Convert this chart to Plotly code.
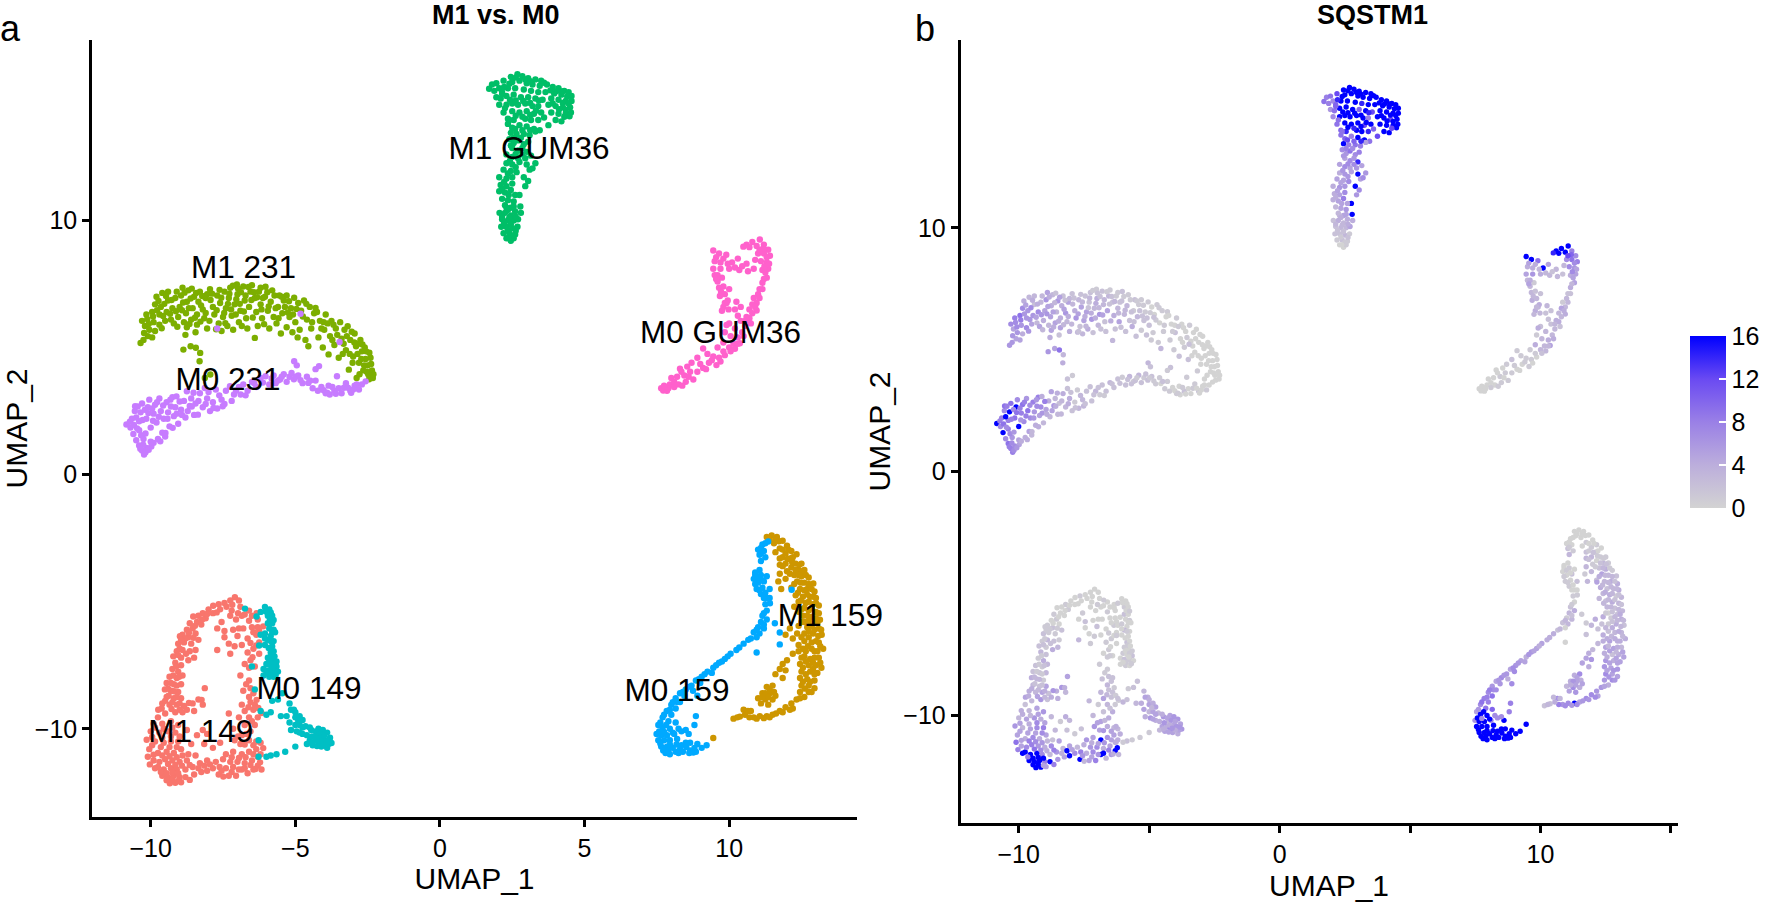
import plotly.graph_objects as go

# rows are (UMAP_1, UMAP_2, SQSTM1 expression)
M1_149 = [(-7.09,-4.82,0),(-7.25,-4.95,0),(-6.95,-4.95,0),(-7.45,-5.05,0),(-7.65,-5.1,1),(-7.84,-5.16,0),(-7.6,-5.3,0),(-8.0,-5.3,0),(-7.85,-5.45,0),(-8.2,-5.45,1),(-8.35,-5.55,0),(-8.1,-5.65,1),(-8.53,-5.58,0),(-8.4,-5.8,0),(-8.65,-5.85,1),(-8.25,-5.9,0),(-8.55,-6.05,1),(-8.75,-6.1,0),(-8.9,-6.3,1),(-8.99,-6.36,1),(-8.7,-6.4,2),(-8.45,-6.25,0),(-8.85,-6.6,1),(-9.05,-6.65,2),(-8.6,-6.65,1),(-8.35,-6.5,2),(-8.9,-6.9,3),(-9.1,-6.95,1),(-8.65,-6.95,2),(-8.45,-6.9,1),(-9.22,-7.15,2),(-8.95,-7.2,1),(-8.7,-7.3,4),(-8.5,-7.2,3),(-9.15,-7.4,3),(-8.95,-7.5,2),(-9.25,-7.65,1),(-9.05,-7.75,4),(-9.35,-7.95,2),(-9.1,-8.0,1),(-8.9,-7.9,3),(-9.45,-8.2,2),(-9.2,-8.25,2),(-8.95,-8.25,3),(-9.51,-8.45,4),(-9.3,-8.5,3),(-9.05,-8.55,1),(-9.45,-8.75,3),(-9.2,-8.8,2),(-8.95,-8.8,5),(-9.6,-9.0,4),(-9.35,-9.05,3),(-9.1,-9.05,5),(-8.85,-9.1,2),(-8.55,-9.0,4),(-8.35,-8.85,6),(-8.13,-8.4,5),(-8.24,-8.86,4),(-8.2,-9.05,3),(-8.5,-9.3,4),(-8.9,-9.35,2),(-9.15,-9.35,6),(-9.74,-9.25,5),(-9.5,-9.4,3),(-9.75,-9.55,2),
(-9.9,-9.8,4),(-9.6,-9.8,3),(-9.3,-9.7,5),(-9.05,-9.85,6),(-10.0,-10.1,3),(-9.7,-10.15,5),(-9.4,-10.1,6),(-9.15,-10.15,4),(-8.75,-10.05,3),(-8.4,-10.25,1),(-8.2,-10.05,4),(-8.05,-10.2,3),(-10.14,-10.43,6),(-9.85,-10.5,3),(-9.55,-10.55,5),(-9.3,-10.5,7),(-9.05,-10.5,8),(-8.6,-10.6,3),(-8.15,-10.6,2),(-7.85,-10.75,1),(-7.6,-10.55,2),(-10.05,-10.8,5),(-9.75,-10.95,4),(-9.45,-10.9,7),(-9.2,-10.95,4),(-8.95,-10.8,5),(-8.7,-11.0,2),(-8.45,-11.05,5),(-10.1,-11.1,9),(-9.9,-11.25,5),(-9.5,-11.2,8),(-9.25,-11.25,6),(-9.0,-11.3,4),(-8.75,-11.25,7),
(-10.03,-11.4,8),(-9.75,-11.5,16),(-9.55,-11.6,16),(-9.3,-11.55,16),(-9.1,-11.6,7),(-8.8,-11.6,3),(-8.55,-11.5,6),(-8.3,-11.35,3),(-8.05,-11.25,5),(-9.6,-11.85,16),(-9.4,-11.9,16),(-9.2,-11.85,16),(-9.0,-11.9,8),(-8.8,-11.9,16),(-8.65,-12.01,8),(-9.34,-12.14,16),(-9.15,-12.12,16),(-8.95,-12.1,5),(-8.5,-11.8,6),(-8.25,-11.7,5),(-8.05,-11.65,16),(-7.85,-11.55,7),(-7.65,-11.8,16),(-7.49,-11.88,3),(-7.4,-11.55,4),(-7.2,-11.7,5),(-7.05,-11.85,8),(-6.85,-11.6,16),(-6.65,-11.75,3),(-6.45,-11.6,6),(-6.3,-11.45,16),(-6.17,-11.6,3),(-7.25,-11.3,6),(-7.5,-11.2,4),(-7.75,-11.3,3),(-7.0,-11.3,7),(-6.75,-11.35,4),(-6.5,-11.25,5),(-6.3,-11.1,4),(-6.85,-11.0,16),(-6.6,-10.9,6),(-6.35,-10.8,5),(-7.15,-10.9,5),(-6.9,-10.6,5),(-7.1,-10.45,6),(-6.6,-10.45,4),(-6.35,-10.5,3),(-6.11,-10.76,4),(-6.85,-10.25,5),(-6.55,-10.1,4),
(-7.15,-10.0,3),(-6.75,-9.85,2),(-6.4,-9.85,4),(-6.95,-9.55,1),(-6.6,-9.55,3),(-6.3,-9.55,1),(-7.3,-9.4,3),(-6.75,-9.3,5),(-6.45,-9.25,2),(-6.17,-9.38,1),(-6.85,-9.05,3),(-6.55,-8.95,2),(-6.34,-8.86,1),(-6.8,-8.5,2),(-6.45,-8.6,2),(-6.6,-8.75,3),(-6.9,-7.9,1),(-6.6,-8.1,1),(-6.75,-7.45,0),(-6.55,-7.3,1),(-6.4,-7.55,0),(-6.65,-7.0,1),(-6.45,-6.85,1),(-6.25,-7.05,0),(-6.25,-6.6,0),(-6.85,-6.7,0),(-7.1,-6.75,1),(-7.3,-6.65,0),(-6.65,-6.45,0),(-6.35,-6.3,1),(-7.0,-6.35,2),(-7.15,-6.1,0),(-6.8,-6.05,0),(-6.5,-6.0,0),(-6.11,-5.97,0),(-6.3,-5.7,0),(-6.6,-5.75,1),(-6.85,-5.55,0),(-7.05,-5.7,0),(-6.34,-5.45,0),(-6.6,-5.35,0),(-7.2,-5.35,0),(-6.9,-5.2,0),(-7.55,-5.8,1),(-7.45,-6.15,2),(-7.45,-6.4,0),(-7.7,-6.05,0),(-7.7,-6.9,3),(-7.25,-7.05,1)]
M1_149_MORE = [(-7.18,-5.12,0),(-7.38,-5.2,0),(-7.72,-5.42,0),(-8.05,-5.48,0),(-8.22,-5.7,0),(-8.47,-5.95,0),(-8.68,-6.22,0),(-8.8,-6.45,1),(-8.95,-6.5,1),(-8.52,-6.42,1),(-9.0,-6.85,1),(-8.78,-7.05,2),(-9.05,-7.1,2),(-9.12,-7.55,1),(-9.22,-7.9,1),(-9.02,-7.95,2),(-9.3,-8.2,1),(-9.1,-8.3,1),(-9.4,-8.42,3),(-9.2,-8.52,3),(-9.38,-8.7,2),(-9.1,-8.75,2),(-9.5,-8.9,4),(-9.25,-8.95,3),(-9.0,-9.0,4),(-9.62,-9.2,4),(-9.28,-9.22,5),(-9.0,-9.25,3),(-8.75,-9.25,4),(-8.68,-8.98,6),(-9.85,-9.95,4),(-9.55,-10.0,3),(-9.25,-9.95,5),(-9.95,-10.32,5),(-9.6,-10.35,4),(-9.3,-10.3,7),(-9.0,-10.3,5),(-9.95,-10.65,5),(-9.65,-10.72,5),(-9.35,-10.72,5),(-9.1,-10.72,7),(-9.9,-11.02,5),(-9.6,-11.05,8),(-9.35,-11.08,7),(-9.1,-11.12,6),(-8.9,-11.05,3),(-9.7,-11.3,7),(-9.4,-11.38,9),(-9.15,-11.42,7),(-8.92,-11.45,4),(-8.65,-11.42,8),(-9.85,-11.55,16),(-9.65,-11.7,8),(-9.45,-11.75,16),(-9.25,-11.72,16),(-9.05,-11.75,16),(-9.45,-12.02,16),(-9.25,-12.0,16),(-9.05,-12.05,5),(-8.35,-11.55,4),(-8.15,-11.45,16),(-7.95,-11.4,5),(-7.62,-11.5,8),(-7.55,-11.65,6),(-7.3,-11.85,5),(-7.15,-11.5,7),(-6.95,-11.6,6),(-6.75,-11.55,16),(-6.55,-11.42,8),(-6.38,-11.58,4),(-6.22,-11.32,16),(-6.45,-11.0,5),(-6.2,-11.0,4),(-6.72,-11.12,6),(-6.95,-11.15,5),(-7.2,-11.12,4),(-7.4,-11.0,6),(-6.75,-10.62,6),(-6.45,-10.65,5),(-6.2,-10.55,3),(-6.98,-10.3,5),(-6.7,-10.2,3),(-6.5,-9.7,2),(-6.62,-9.15,3),(-6.4,-9.05,2),(-6.28,-9.18,1),(-6.55,-8.4,2),(-6.7,-8.25,1),(-6.6,-7.6,1),(-6.48,-7.18,0),(-6.35,-6.72,0),(-6.55,-6.62,1),(-6.45,-6.2,0),(-6.25,-6.15,0),(-6.95,-6.05,0),(-6.75,-5.5,0),(-6.98,-5.45,1),(-6.5,-5.55,0),(-6.3,-6.0,0),(-7.25,-5.55,0)]

M1_159 = [(11.47,-2.39,0),(11.3,-2.45,0),(11.65,-2.45,0),(11.85,-2.6,0),(11.55,-2.7,0),(12.0,-2.8,0),(11.75,-2.9,1),(12.15,-3.0,1),(11.95,-3.1,1),(12.33,-3.13,0),(11.6,-3.05,0),(12.1,-3.3,2),(11.75,-3.3,2),(11.95,-3.5,3),(12.3,-3.5,1),(12.5,-3.5,1),(11.75,-3.55,3),(12.15,-3.65,0),(12.4,-3.75,3),(12.6,-3.75,1),(12.0,-3.8,1),(11.75,-3.9,3),(12.25,-3.95,2),(12.5,-4.0,4),(12.75,-4.05,1),(11.95,-4.1,3),(12.35,-4.2,5),(12.6,-4.25,3),(12.91,-4.28,2),(11.7,-4.2,1),(11.8,-4.5,3),(12.15,-4.45,2),(12.45,-4.5,3),(12.7,-4.5,4),(12.95,-4.6,4),(12.3,-4.75,4),(12.55,-4.8,2),(12.8,-4.8,3),(13.0,-4.85,4),(12.4,-5.0,3),(12.65,-5.05,4),(12.9,-5.1,1),(13.1,-5.15,3),(12.25,-5.2,3),(12.5,-5.3,2),(12.75,-5.35,4),(13.0,-5.4,3),(12.55,-5.55,3),(12.85,-5.6,2),(13.14,-5.71,3),(12.6,-5.8,0),(12.95,-5.85,2),(12.4,-5.95,4),
(12.7,-6.0,1),(13.1,-6.05,4),(12.1,-6.05,4),(12.35,-6.25,2),(12.6,-6.25,1),(12.9,-6.25,4),(13.2,-6.3,2),(11.95,-6.3,3),(12.2,-6.45,2),(12.6,-6.55,2),(12.85,-6.6,3),(13.1,-6.6,3),(12.4,-6.7,4),(13.25,-6.85,4),(12.4,-6.95,4),(12.65,-6.95,5),(12.95,-6.95,4),(12.2,-7.05,3),(12.5,-7.2,5),(12.8,-7.25,5),(13.1,-7.2,3),(12.0,-7.3,3),(11.85,-7.45,4),(12.45,-7.45,4),(12.75,-7.5,2),(13.0,-7.5,4),(13.19,-7.6,5),(11.75,-7.65,5),(11.95,-7.7,6),(12.5,-7.75,6),(12.8,-7.75,4),(13.05,-7.8,5),(12.45,-8.0,6),(12.7,-8.05,5),(12.95,-8.1,6),(11.85,-8.0,4),(11.6,-7.85,5),(12.5,-8.3,7),(12.75,-8.3,5),(12.95,-8.4,5),(11.5,-8.3,7),(11.3,-8.35,4),(11.55,-8.55,4),(11.15,-8.6,4),(11.4,-8.6,5),(11.25,-8.85,7),(11.5,-8.85,4),(11.0,-8.8,3),(11.1,-9.0,5),(11.35,-9.05,6),(12.75,-8.55,7),(12.45,-8.55,6),(12.6,-8.75,4),(12.33,-8.85,6),(12.15,-9.0,6),(11.95,-9.15,7),(12.2,-9.2,5),(11.75,-9.3,7),(11.5,-9.45,5),(11.3,-9.5,16),(11.06,-9.5,7),(10.85,-9.55,6),(10.65,-9.3,7),(10.5,-9.25,3),(10.7,-9.55,8),(10.37,-9.52,2),(10.15,-9.6,2),(9.45,-10.36,16)]
M1_159_MORE = [(11.4,-2.55,0),(11.72,-2.62,0),(11.6,-2.55,0),(12.05,-2.95,0),(11.85,-2.95,0),(12.2,-3.25,0),(11.85,-3.25,1),(12.02,-3.32,2),(12.18,-3.45,1),(12.42,-3.55,1),(11.85,-3.6,2),(12.3,-3.75,2),(12.52,-3.8,2),(12.65,-3.95,1),(12.4,-3.95,3),(12.1,-3.9,1),(12.75,-4.3,3),(12.48,-4.25,3),(12.25,-4.3,4),(12.85,-4.5,2),(12.6,-4.55,3),(12.38,-4.65,3),(12.7,-4.72,3),(12.92,-4.8,3),(12.48,-4.95,4),(12.75,-5.0,3),(13.0,-5.05,2),(12.85,-5.25,2),(12.6,-5.25,3),(12.42,-5.4,3),(13.1,-5.45,2),(12.7,-5.55,3),(13.0,-5.65,3),(12.75,-5.75,2),(12.5,-5.8,1),(12.85,-5.95,3),(13.05,-5.85,4),(13.18,-6.1,3),(12.95,-6.1,3),(12.75,-6.15,2),(13.08,-6.35,3),(12.75,-6.4,4),(12.5,-6.4,3),(13.0,-6.55,4),(12.72,-6.75,3),(13.15,-6.75,3),(12.55,-6.85,4),(12.85,-6.85,4),(13.05,-6.95,4),(12.6,-7.15,3),(12.95,-7.2,4),(12.65,-7.35,5),(12.9,-7.4,3),(13.15,-7.4,5),(12.55,-7.6,4),(12.9,-7.65,5),(12.65,-7.85,5),(12.95,-7.85,5),(12.55,-8.15,5),(12.8,-8.15,6),(12.62,-8.42,6),(12.85,-8.55,6),(11.4,-8.45,5),(11.25,-8.6,6),(11.35,-8.75,5),(11.6,-8.7,5),(11.15,-8.75,4),(12.45,-8.8,5),(12.1,-9.25,7),(11.85,-9.35,6),(11.62,-9.4,6),(11.2,-9.58,6),(10.95,-9.6,7),(10.75,-9.3,3),(10.55,-9.45,4),(10.28,-9.55,3),(11.4,-9.55,7)]

M1_231 = [(-10.35,5.18,6),(-10.25,5.3,6),(-10.1,5.45,5),(-10.2,5.85,5),(-10.3,6.05,7),(-10.05,5.7,6),(-10.15,6.3,8),(-9.95,5.4,5),(-9.85,5.65,4),(-9.9,6.0,6),(-9.95,6.4,9),(-9.85,6.7,7),(-9.8,7.0,4),(-9.7,5.9,7),(-9.7,6.3,6),(-9.65,6.6,6),(-9.6,7.15,3),(-9.5,6.05,5),(-9.45,6.4,6),(-9.4,6.85,2),(-9.4,7.2,3),(-9.3,6.1,3),(-9.25,6.55,7),(-9.2,5.95,5),(-9.15,6.95,3),(-9.05,6.2,4),(-9.0,6.6,5),(-8.95,7.05,6),(-8.9,7.35,5),(-8.85,6.0,3),(-8.8,5.5,4),(-8.78,6.35,5),(-8.75,6.8,4),(-8.7,7.25,3),(-8.75,5.8,5),(-8.6,6.1,5),(-8.55,6.55,3),(-8.5,7.0,6),(-8.45,5.6,2),(-8.4,5.9,5),(-8.4,6.3,4),(-8.35,6.8,4),(-8.3,7.2,2),(-8.2,6.5,6),(-8.15,6.15,3),(-8.1,6.95,5),(-8.05,7.1,3),(-8.05,5.75,4),
(-7.95,7.3,2),(-7.85,6.6,4),(-7.8,6.3,6),(-7.7,7.05,3),(-7.65,5.95,2),(-7.6,6.75,5),(-7.55,5.65,3),(-7.5,6.2,5),(-7.45,7.2,2),(-7.4,6.55,5),(-7.35,5.85,4),(-7.3,6.95,2),(-7.25,7.35,2),(-7.2,6.25,6),(-7.15,5.7,2),(-7.1,6.7,3),(-7.02,7.48,1),(-7.0,7.1,4),(-6.95,6.0,3),(-6.9,6.45,6),(-6.85,5.85,2),(-6.8,7.4,2),(-6.75,6.85,3),(-6.7,6.15,2),(-6.6,6.6,5),(-6.55,7.2,3),(-6.5,7.45,1),(-6.4,5.38,3),(-6.4,6.95,2),(-6.35,6.4,4),(-6.3,5.85,2),(-6.2,6.7,3),(-6.2,7.35,1),(-6.15,6.15,5),(-6.05,7.0,2),(-6.03,7.39,2),(-5.95,6.45,3),(-5.9,5.75,2),(-5.85,6.8,3),(-5.8,7.25,1),(-5.75,6.2,2),
(-5.65,5.95,4),(-5.6,6.6,1),(-5.55,7.05,2),(-5.5,5.55,2),(-5.45,6.35,3),(-5.4,6.85,1),(-5.3,5.8,1),(-5.3,7.05,1),(-5.2,6.2,2),(-5.15,6.55,1),(-5.1,5.6,2),(-5.04,6.96,1),(-5.0,6.0,2),(-4.9,6.75,0),(-4.85,5.7,1),(-4.8,6.45,0),(-4.7,6.85,1),(-4.65,5.3,1),(-4.6,6.1,0),(-4.55,5.05,3),(-4.5,6.6,1),(-4.45,5.75,1),(-4.35,6.35,0),(-4.3,6.56,1),(-4.2,5.4,1),(-4.15,6.05,0),(-4.05,5.0,1),(-4.0,5.7,2),(-3.95,6.3,1),(-3.85,4.73,2),(-3.8,5.45,0),(-3.75,6.05,0),(-3.65,5.1,1),(-3.6,5.75,0),(-3.5,4.6,2),(-3.45,6.0,1),(-3.4,5.35,0),(-3.3,5.7,0),(-3.25,4.9,0),(-3.19,5.84,0),(-3.15,4.13,1),(-3.1,5.3,0),(-3.0,4.65,0),(-2.95,5.55,0),(-2.9,5.05,0),(-2.88,3.8,0),(-2.8,4.4,0),(-2.75,5.3,0),(-2.7,4.85,0),(-2.65,4.1,0),(-2.6,5.0,0),(-2.57,4.55,0),(-2.5,4.3,0),(-2.45,3.75,0),(-2.4,4.6,0),(-2.35,4.1,0),(-2.32,3.8,0),(-2.3,3.95,0),
(-8.87,4.92,6),(-8.62,5.05,5),(-8.44,4.99,9),(-8.29,4.79,3),(-8.31,4.46,4),(-8.13,3.8,2),(-7.94,3.94,1)]
M1_231_MORE = [(-10.23,5.57,6),(-10.07,5.93,7),(-10.12,6.12,7),(-9.92,6.22,8),(-9.78,6.47,6),(-9.73,6.83,5),(-9.57,6.24,6),(-9.53,6.72,7),(-9.62,5.76,6),(-9.47,7.03,4),(-9.33,6.33,5),(-9.28,6.87,4),(-9.13,6.43,6),(-9.08,5.82,3),(-9.1,7.2,3),(-8.92,6.47,6),(-8.88,6.77,5),(-8.83,7.16,4),(-8.68,6.55,5),(-8.66,5.93,4),(-8.62,6.93,3),(-8.58,7.32,2),(-8.47,6.17,4),(-8.43,7.15,5),(-8.28,6.02,3),(-8.26,6.66,5),(-8.22,7.03,2),(-8.1,6.36,4),(-7.97,6.05,3),(-7.93,6.87,3),(-7.88,7.12,2),(-7.74,5.72,3),(-7.72,6.47,5),(-7.62,7.27,2),(-7.56,6.96,3),(-7.46,6.36,4),(-7.42,5.96,3),(-7.33,6.72,2),(-7.28,7.12,3),(-7.22,6.5,4),(-7.16,7.43,1),(-7.06,6.3,4),(-7.04,6.9,4),(-6.98,7.32,2),(-6.92,6.72,3),(-6.88,7.18,2),(-6.78,6.42,5),(-6.72,7.05,3),(-6.66,5.75,2),(-6.62,7.38,1),(-6.52,6.87,2),(-6.47,6.18,4),(-6.43,7.18,2),(-6.32,6.98,3),(-6.26,7.2,1),(-6.17,6.5,3),(-6.12,6.95,2),(-6.08,5.92,2),(-5.97,7.18,1),(-5.92,6.62,3),(-5.72,7.05,1),(-5.68,6.55,2),(-5.58,6.15,2),(-5.47,7.0,1),(-5.36,6.6,2),(-5.26,6.38,2),(-5.22,6.82,1),(-5.08,6.3,2),(-4.96,6.52,1),(-4.92,5.4,1),(-4.74,6.22,1),(-4.62,6.72,1),(-4.42,6.0,1),(-4.25,6.4,0),(-4.1,5.75,1),(-4.02,6.0,0),(-3.88,5.95,1),(-3.72,5.3,0),(-3.68,5.9,0),(-3.55,5.5,1),(-3.36,4.75,0),(-3.33,5.15,0),(-3.22,5.45,0),(-3.12,4.75,0),(-3.05,5.62,0),(-3.02,4.4,0),(-2.96,5.2,0),(-2.85,4.75,0),(-2.82,5.15,0),(-2.72,4.55,0),(-2.68,5.12,0),(-2.62,4.3,0),(-2.55,4.85,0),(-2.48,3.95,0),(-2.44,4.8,0),(-2.38,4.35,0),(-2.53,4.05,0),(-2.78,3.95,0)]

M1_GUM36 = [(2.45,15.65,16),(2.68,15.75,16),(2.85,15.68,16),(3.05,15.6,16),(3.3,15.55,16),(3.5,15.5,16),(2.2,15.5,12),(2.5,15.45,16),(2.75,15.5,16),(3.0,15.4,16),(3.2,15.35,16),(3.45,15.3,16),(3.7,15.35,16),(3.9,15.25,16),(4.1,15.2,16),(4.3,15.1,16),(1.8,15.35,8),(1.95,15.4,9),(2.05,15.2,7),(1.7,15.18,9),(1.88,15.1,8),(2.15,15.05,10),(2.35,15.2,16),(2.6,15.2,16),(2.9,15.15,16),(3.15,15.1,14),(3.4,15.05,16),(3.65,15.05,16),(3.95,15.0,16),(4.2,14.95,16),(4.45,15.05,16),(4.55,14.9,16),(1.95,14.85,6),(2.1,14.8,9),(2.3,14.9,16),(2.55,14.95,16),(2.8,14.85,16),(3.05,14.85,10),(3.3,14.8,16),(3.55,14.75,12),(3.85,14.8,16),(4.1,14.75,16),(4.35,14.7,16),(4.55,14.7,16),(2.05,14.55,7),(2.3,14.55,16),(2.5,14.6,16),(2.7,14.55,16),(2.95,14.6,16),(3.2,14.5,16),(3.4,14.5,8),(3.75,14.55,16),(4.0,14.5,16),(4.25,14.45,12),(4.5,14.45,16),(2.2,14.25,9),(2.5,14.3,16),(2.75,14.25,16),(3.0,14.3,16),(3.25,14.2,12),(3.5,14.25,16),(3.85,14.25,16),(4.1,14.2,16),(4.35,14.2,16),(4.53,14.25,16),(2.35,14.0,10),(2.55,13.95,14),(2.95,14.0,16),(3.15,13.95,16),(3.4,13.95,14),(3.6,14.05,10),(4.0,13.95,16),(4.2,13.9,16),(3.75,13.75,12),
(2.35,13.8,9),(2.5,13.65,10),(2.75,13.75,8),(3.0,13.7,16),(3.25,13.6,16),(3.45,13.55,9),(2.45,13.45,16),(2.65,13.4,8),(2.9,13.4,9),(3.1,13.35,8),(3.3,13.5,5),(2.4,13.2,7),(2.55,13.05,6),(2.7,13.15,9),(2.9,13.0,7),(3.05,13.1,8),(2.5,12.85,5),(2.7,12.75,7),(2.85,12.85,6),(3.0,12.7,14),(2.3,12.6,5),(2.5,12.5,7),(2.7,12.45,5),(2.95,12.45,6),(3.15,12.55,5),(2.3,12.25,4),(2.5,12.2,6),(2.75,12.3,5),(3.0,12.2,16),(3.3,12.25,6),(2.2,12.0,5),(2.45,11.95,5),(2.65,11.9,7),(3.1,12.0,5),(3.2,12.05,7),(2.05,11.7,4),(2.3,11.65,6),(2.5,11.7,6),(2.9,11.7,16),(3.05,11.55,7),(2.1,11.4,4),(2.3,11.35,5),(2.5,11.45,7),(2.95,11.35,6),(2.05,11.15,4),(2.25,11.1,5),(2.45,11.2,8),(2.75,11.0,16),(2.15,10.85,3),(2.35,10.8,5),(2.55,10.75,6),(2.25,10.6,3),(2.45,10.5,5),(2.78,10.55,16),(2.06,10.3,2),(2.25,10.3,4),(2.45,10.2,3),(2.6,10.35,4),(2.8,10.3,4),(2.15,10.05,2),(2.35,10.0,3),(2.55,10.0,3),(2.7,10.05,5),(2.12,9.75,2),(2.3,9.75,2),(2.5,9.7,3),(2.68,9.75,1),(2.2,9.5,1),(2.4,9.5,2),(2.6,9.45,1),(2.3,9.3,0),(2.45,9.2,0),(2.55,9.3,1)]
M1_GUM36_MORE = [(2.22,15.25,14),(2.4,15.38,16),(2.62,15.62,16),(2.95,15.55,16),(3.12,15.48,16),(3.6,15.42,16),(3.82,15.12,16),(4.02,15.08,16),(4.22,15.08,16),(4.4,14.88,16),(4.25,14.62,16),(4.45,14.6,16),(4.12,14.38,16),(4.35,14.36,16),(4.48,14.1,16),(4.3,14.08,12),(3.9,14.6,16),(2.15,14.98,10),(2.42,14.75,16),(2.62,14.72,16),(2.88,14.7,16),(3.12,14.62,16),(3.32,14.32,16),(3.42,14.72,14),(2.62,14.12,16),(2.85,14.08,14),(3.12,14.15,16),(2.25,14.42,9),(2.4,13.95,9),(2.6,13.6,12),(2.85,13.55,10),(3.12,13.55,14),(2.55,13.25,8),(2.8,13.25,7),(2.45,12.95,6),(2.62,12.62,7),(2.85,12.6,7),(2.42,12.35,6),(2.62,12.1,6),(2.35,11.85,5),(2.22,11.52,5),(2.15,11.25,4),(2.38,11.0,5),(2.6,11.0,5),(2.3,10.5,3),(2.55,10.55,5),(2.35,10.42,4),(2.15,10.15,3),(2.4,10.12,3),(2.62,10.15,4),(2.22,9.9,2),(2.45,9.85,2),(2.62,9.6,2),(2.35,9.62,1),(2.5,9.4,1),(2.38,9.3,0)]

M0_149 = [(-6.74,-5.27,1),(-6.34,-5.58,0),(-6.2,-5.4,1),(-6.05,-5.21,0),(-5.9,-5.3,0),(-5.95,-5.55,1),(-5.8,-5.55,0),(-5.95,-5.85,2),(-5.8,-5.85,0),(-5.9,-6.05,0),(-5.75,-6.1,1),(-6.2,-6.3,0),(-6.05,-6.25,1),(-5.85,-6.35,0),(-5.7,-6.2,0),(-5.95,-6.5,3),(-5.75,-6.55,0),(-6.25,-6.72,1),(-6.05,-6.7,0),(-5.8,-6.75,0),(-5.85,-7.0,2),(-5.75,-6.95,0),(-5.95,-7.2,1),(-5.8,-7.25,0),(-5.65,-7.35,1),(-6.0,-7.45,1),(-5.85,-7.5,0),(-5.65,-7.55,2),(-6.1,-7.65,0),(-5.95,-7.7,2),(-5.75,-7.7,1),(-5.6,-7.75,0),(-6.1,-7.9,0),(-5.9,-7.95,1),(-5.75,-7.95,0),(-6.5,-7.55,1),(-6.4,-8.45,2),(-5.8,-8.9,1),(-5.6,-8.85,2),(-5.2,-9.0,3),(-5.45,-8.6,2),(-6.2,-9.3,2),(-6.0,-9.45,3),(-5.85,-9.35,2),(-5.5,-9.5,3),(-5.3,-9.5,4),(-5.05,-9.25,4),(-5.0,-9.55,5),(-5.15,-9.25,5),(-4.85,-9.5,4),(-4.75,-9.65,5),(-5.2,-9.75,5),(-5.15,-10.05,4),(-5.0,-9.85,3),(-4.95,-10.1,6),(-4.85,-9.85,5),(-4.65,-9.9,3),(-4.6,-10.25,4),(-4.75,-10.2,4),(-4.45,-10.05,6),(-4.5,-10.45,5),(-4.6,-10.6,3),(-4.4,-10.65,5),(-4.2,-10.0,5),(-4.25,-10.25,3),(-4.05,-10.05,6),(-4.3,-10.45,4),(-4.05,-10.4,5),(-4.1,-10.7,5),(-3.9,-10.15,6),(-3.95,-10.45,6),(-3.8,-10.35,5),(-3.75,-10.56,6),(-3.9,-10.75,4),(-4.2,-10.55,7),(-3.85,-10.6,5),(-5.0,-10.7,1),(-5.35,-10.9,1),(-5.65,-11.0,1),(-5.85,-11.05,2),(-6.0,-11.1,1),(-6.27,-11.1,4),(-6.27,-10.45,4)]
M0_149_MORE = [(-6.02,-5.38,0),(-5.85,-5.42,0),(-5.88,-5.7,0),(-5.75,-5.72,1),(-5.8,-6.18,0),(-6.05,-6.45,0),(-5.85,-6.55,1),(-5.92,-6.82,0),(-5.82,-7.12,1),(-5.72,-7.15,0),(-5.9,-7.35,0),(-5.75,-7.45,1),(-5.78,-7.6,0),(-5.88,-7.82,1),(-6.0,-7.82,0),(-5.68,-7.88,1),(-5.0,-9.35,4),(-4.9,-9.68,3),(-4.75,-9.95,5),(-4.85,-10.15,5),(-4.5,-9.95,4),(-4.3,-10.1,5),(-4.42,-10.3,6),(-4.15,-10.2,6),(-4.2,-10.4,4),(-4.0,-10.25,5),(-4.0,-10.6,4),(-3.82,-10.48,6),(-4.45,-10.55,4),(-4.25,-10.68,5),(-4.12,-10.52,6)]

M0_159 = [(11.35,-2.63,0),(11.15,-2.75,0),(11.0,-2.95,0),(11.2,-3.0,0),(11.05,-3.15,2),(11.25,-3.25,1),(11.1,-3.4,3),(11.05,-3.75,0),(10.9,-3.95,0),(10.85,-4.1,0),(11.1,-3.95,1),(11.3,-4.0,0),(11.0,-4.25,0),(11.2,-4.2,2),(10.95,-4.5,1),(11.15,-4.45,0),(11.4,-4.5,2),(11.1,-4.7,1),(11.3,-4.85,0),(11.41,-5.06,1),(11.25,-5.1,1),(12.16,-4.53,5),(11.3,-5.35,0),(11.15,-5.55,2),(11.1,-5.8,3),(11.3,-5.7,4),(11.58,-5.85,1),(11.0,-6.0,1),(11.2,-6.05,3),(11.05,-6.25,3),(10.85,-6.2,2),(10.95,-6.4,0),(11.75,-6.21,1),(11.75,-6.68,2),(10.66,-6.5,2),(10.5,-6.65,4),(10.95,-7.0,0),(10.25,-6.9,4),(10.05,-7.05,5),(9.85,-7.25,5),(9.65,-7.4,6),(9.45,-7.6,4),(9.25,-7.75,5),(9.4,-7.8,5),(9.05,-7.95,6),(8.85,-8.1,5),(9.0,-8.2,7),(8.7,-8.3,6),(8.5,-8.45,7),(8.75,-8.5,4),(8.9,-8.7,7),(8.3,-8.6,5),(8.45,-8.7,6),(8.15,-8.8,6),(8.3,-8.95,7),(8.0,-9.05,7),(8.15,-9.2,9),(7.84,-9.3,8),(8.0,-9.45,8),(7.7,-9.55,7),(7.9,-9.7,9),(8.15,-9.75,10),(8.85,-9.5,8),(8.8,-9.85,8),(7.55,-9.85,5),(7.7,-9.95,16),(7.95,-10.0,16),(8.25,-10.0,7),(7.49,-10.2,6),(7.65,-10.25,16),(7.85,-10.25,16),(8.1,-10.2,8),(8.35,-10.1,7),(8.6,-10.2,16),(7.55,-10.45,16),(7.75,-10.45,16),(7.95,-10.45,16),(8.2,-10.4,16),(8.5,-10.55,16),(7.65,-10.7,16),(7.85,-10.7,16),(8.05,-10.75,16),(8.35,-10.65,16),(8.65,-10.55,16),(8.9,-10.6,16),(7.8,-10.95,16),(7.95,-11.0,16),(8.15,-10.9,16),(8.4,-10.9,16),(8.65,-10.85,16),(8.85,-10.9,16),(8.76,-10.93,16),(9.05,-10.75,16),(9.22,-10.65,16)]
M0_159_MORE = [(11.25,-2.7,0),(11.1,-2.88,0),(11.1,-3.1,1),(10.9,-3.85,0),(11.0,-4.05,1),(11.15,-4.15,0),(10.9,-4.3,1),(11.05,-4.55,1),(11.25,-4.65,0),(11.2,-4.85,0),(11.4,-4.85,0),(11.2,-5.45,1),(11.2,-5.9,2),(10.95,-6.1,3),(10.75,-6.45,3),(10.35,-6.8,4),(9.95,-7.15,4),(9.75,-7.35,5),(9.55,-7.5,6),(9.15,-7.85,6),(8.95,-8.05,7),(8.6,-8.35,6),(8.4,-8.55,6),(8.2,-8.95,7),(8.05,-8.95,8),(7.95,-9.25,8),(7.75,-9.45,9),(7.62,-9.75,6),(7.82,-9.85,16),(7.58,-10.1,16),(7.75,-10.12,7),(7.62,-10.58,16),(7.72,-10.85,16),(7.95,-10.62,16),(8.18,-10.62,16),(8.3,-10.8,16),(8.52,-10.72,16),(8.62,-10.95,16),(8.25,-10.95,16),(8.05,-10.15,16),(8.5,-10.05,7),(7.9,-10.85,16),(8.8,-10.75,16)]

M0_231 = [(-10.84,1.97,16),(-10.7,1.85,7),(-10.65,2.2,8),(-10.55,2.5,7),(-10.6,1.6,16),(-10.5,1.35,7),(-10.54,2.69,9),(-10.4,2.1,8),(-10.4,1.75,8),(-10.35,2.45,16),(-10.3,2.8,9),(-10.4,1.15,9),(-10.3,0.95,8),(-10.25,1.4,6),(-10.23,0.79,8),(-10.15,2.2,9),(-10.1,2.65,16),(-10.15,1.05,7),(-10.05,2.95,7),(-10.0,1.85,16),(-10.0,1.3,5),(-9.98,1.11,5),(-9.9,2.4,8),(-9.85,2.75,9),(-9.8,2.05,7),(-9.75,1.4,4),(-9.7,3.0,6),(-9.65,2.5,9),(-9.6,1.65,5),(-9.55,2.2,7),(-9.5,1.5,3),(-9.45,2.85,8),(-9.4,2.45,6),(-9.35,1.9,4),(-9.25,3.05,8),(-9.24,1.84,4),(-9.2,2.3,5),(-9.15,2.65,7),(-9.11,3.08,4),(-9.05,2.0,3),
(-8.95,2.55,5),(-8.85,2.9,4),(-8.8,2.25,3),(-8.75,3.28,5),(-8.65,2.7,6),(-8.6,3.0,3),(-8.5,2.35,3),(-8.45,2.8,2),(-8.37,2.36,3),(-8.3,3.2,4),(-8.2,2.65,3),(-8.13,3.41,2),(-8.05,3.0,4),(-7.95,2.5,2),(-7.85,2.85,1),(-7.75,3.35,1),(-7.7,2.6,3),(-7.55,2.95,3),(-7.51,2.69,3),(-7.4,3.3,2),(-7.26,3.48,2),(-7.2,2.9,2),(-7.05,3.3,3),(-6.89,3.15,1),(-6.8,3.55,2),(-6.65,3.3,2),(-6.5,3.65,3),(-6.35,3.45,2),(-6.2,3.8,2),(-6.03,3.87,1),(-5.9,3.55,2),(-5.75,3.9,3),(-5.6,3.7,1),(-5.53,3.74,2),(-5.4,3.95,3),(-5.3,3.65,2),(-5.2,3.85,1),(-5.04,4.46,3),(-4.95,4.3,2),(-5.05,3.75,2),(-4.9,3.9,2),(-4.75,3.6,1),(-4.6,3.85,1),(-4.55,3.61,0),(-4.4,3.4,1),(-4.3,3.7,1),(-4.18,4.27,2),(-4.3,4.15,1),(-4.1,3.45,0),(-3.95,3.2,1),(-3.85,3.5,0),(-3.81,3.15,0),(-3.65,3.3,2),(-3.56,3.87,1),(-3.5,3.4,0),(-3.4,3.2,0),(-3.25,3.6,1),(-3.1,3.3,2),(-3.07,3.22,0),(-2.95,3.5,0),(-2.8,3.35,1),(-2.57,3.67,0),(-2.7,3.55,0),(-4.82,6.33,2),(-3.47,5.22,2),(-7.7,5.75,2)]
M0_231_MORE = [(-10.72,2.08,8),(-10.58,1.95,9),(-10.5,2.25,16),(-10.47,1.82,7),(-10.45,2.68,8),(-10.33,1.55,7),(-10.36,1.02,8),(-10.28,2.15,8),(-10.2,2.55,7),(-10.26,1.18,7),(-10.18,1.62,6),(-10.18,0.88,7),(-10.08,2.42,9),(-10.07,0.98,6),(-9.95,2.6,8),(-9.92,2.12,6),(-9.9,1.25,4),(-9.78,2.85,8),(-9.72,2.28,8),(-9.67,1.31,4),(-9.57,2.72,7),(-9.49,1.64,3),(-9.42,2.2,6),(-9.3,2.68,7),(-9.32,2.95,6),(-9.1,2.4,6),(-9.0,2.88,8),(-8.92,2.35,4),(-8.72,2.5,5),(-8.58,2.68,4),(-8.52,3.22,4),(-8.35,2.9,3),(-8.1,2.78,4),(-8.0,3.25,2),(-7.83,2.62,2),(-7.63,3.12,3),(-7.45,2.78,2),(-7.12,3.15,2),(-6.95,3.45,2),(-6.72,3.12,1),(-6.42,3.6,2),(-6.12,3.62,2),(-5.82,3.78,2),(-5.68,3.6,2),(-5.47,3.85,1),(-5.13,4.0,2),(-4.98,3.85,1),(-4.82,3.72,1),(-4.48,3.7,2),(-4.22,3.3,1),(-4.02,3.32,0),(-3.9,3.22,1),(-3.72,3.45,1),(-3.6,3.18,0),(-3.32,3.42,1),(-3.18,3.42,0),(-3.0,3.35,0),(-2.88,3.55,0)]

M0_GUM36 = [(11.06,9.25,16),(10.8,9.15,16),(10.6,9.05,16),(10.49,8.97,14),(10.95,9.0,16),(11.2,9.05,8),(11.35,8.85,7),(11.41,8.61,8),(11.2,8.7,9),(11.0,8.7,7),(11.3,8.35,6),(11.1,8.4,7),(10.9,8.45,3),(10.6,8.3,3),(10.3,8.5,5),(10.1,8.35,16),(9.9,8.65,9),(9.65,8.7,16),(9.45,8.82,16),(9.7,8.35,4),(9.5,8.4,4),(9.45,8.1,5),(9.7,8.1,6),(10.0,8.1,4),(10.35,8.05,3),(10.65,8.0,3),(10.85,8.1,2),(11.35,8.1,5),(11.15,8.05,4),(11.3,7.75,5),(11.15,7.55,4),(9.5,7.85,3),(9.6,7.6,3),(9.75,7.75,1),(9.65,7.35,3),(9.8,7.4,2),(9.68,7.03,4),(9.85,7.1,3),(10.0,7.3,2),(11.15,7.3,2),(11.0,7.1,3),(10.85,6.95,1),(10.95,6.75,3),(10.8,6.7,5),(9.8,6.6,4),(9.91,6.75,3),(9.75,6.45,3),(9.98,6.5,3),(10.25,6.8,3),(10.4,6.6,2),(10.2,6.5,2),(10.95,6.46,4),(10.8,6.35,3),(10.6,6.2,4),(10.75,5.95,2),(10.55,5.85,3),(10.4,6.05,2),(10.0,5.95,2),(10.2,5.75,3),(10.45,5.6,3),(9.91,5.89,4),(9.85,5.6,1),(10.05,5.45,3),(10.3,5.4,4),(10.37,5.17,5),(10.15,5.15,3),(10.0,5.0,3),(9.8,5.2,4),(9.6,5.0,1),(9.1,4.96,1),(9.25,4.75,1),(9.45,4.65,1),(9.65,4.6,1),(9.85,4.7,0),(9.56,4.31,1),(9.3,4.4,0),(9.1,4.2,0),(8.9,4.6,2),(8.7,4.4,1),(8.9,4.05,1),(8.76,3.74,1),(8.55,4.25,0),(8.3,4.17,0),(8.45,3.9,1),(8.2,3.85,0),(8.0,3.8,0),(8.25,3.55,0),(8.5,3.65,1),(7.95,3.55,0),(7.8,3.45,0),(7.72,3.31,0),(7.85,3.3,0),(7.65,3.4,0),(8.1,3.45,1)]
M0_GUM36_MORE = [(11.18,8.9,10),(11.05,8.85,12),(10.7,8.95,16),(11.3,8.55,7),(11.38,8.3,5),(11.22,8.2,7),(11.25,7.95,5),(11.2,7.7,3),(9.55,8.55,5),(9.8,8.5,4),(9.95,8.3,3),(10.2,8.15,3),(10.45,8.2,2),(9.6,7.85,4),(9.55,7.7,5),(9.72,7.2,3),(9.95,6.85,4),(9.85,6.75,3),(11.05,7.3,2),(11.05,6.95,3),(10.9,6.6,4),(10.7,6.5,3),(10.7,6.15,4),(10.55,6.05,3),(10.3,6.25,2),(10.5,5.45,4),(10.3,5.15,3),(10.2,4.95,3),(10.05,4.85,2),(9.8,4.85,1),(9.7,4.45,0),(9.4,4.5,1),(9.2,4.15,0),(9.0,4.35,1),(8.65,4.05,1),(8.6,3.85,0),(8.35,4.05,0),(8.1,3.65,0),(7.9,3.4,0),(8.38,3.5,1),(7.75,3.5,0)]

CLUSTERS = [("M1 149", M1_149 + M1_149_MORE, "#F8766D"), ("M1 159", M1_159 + M1_159_MORE, "#CD9600"),
            ("M1 231", M1_231 + M1_231_MORE, "#7CAE00"), ("M1 GUM36", M1_GUM36 + M1_GUM36_MORE, "#00BE67"),
            ("M0 149", M0_149 + M0_149_MORE, "#00BFC4"), ("M0 159", M0_159 + M0_159_MORE, "#00A9FF"),
            ("M0 231", M0_231 + M0_231_MORE, "#C77CFF"), ("M0 GUM36", M0_GUM36 + M0_GUM36_MORE, "#FF61CC")]

label_text = ["M1 GUM36", "M1 231", "M0 231", "M0 GUM36", "M1 159", "M0 159", "M0 149", "M1 149"]
label_x = [3.08, -6.79, -7.33, 9.7, 13.5, 8.2, -4.53, -8.27]
label_y = [12.74, 8.05, 3.65, 5.47, -5.65, -8.6, -8.53, -10.2]

x_ticks_a = [-10, -5, 0, 5, 10]
y_ticks = [-10, 0, 10]
x_ticks_b = [-10, -5, 0, 5, 10, 15]
x_text_b = ["\u221210", "", "0", "", "10", ""]
cbar_ticks = [0, 4, 8, 12, 16]

W, H = 1769, 903
FONT = "Liberation Sans"
fig = go.Figure()

for name, rows, colour in CLUSTERS:
    fig.add_trace(go.Scatter(x=[r[0] for r in rows], y=[r[1] for r in rows], mode="markers", name=name,
                             marker=dict(color=colour, size=6.4, line=dict(width=0)),
                             xaxis="x", yaxis="y", showlegend=False))
fig.add_trace(go.Scatter(x=label_x, y=label_y, text=label_text, mode="text", textposition="middle center",
                         textfont=dict(family=FONT, size=31.5, color="black"), cliponaxis=False,
                         xaxis="x", yaxis="y", showlegend=False, hoverinfo="skip"))

all_rows = [r for _, rows, _ in CLUSTERS for r in rows]
CB_TOP, CB_BOTTOM, CB_LEFT, CB_RIGHT = 336, 507.5, 1689.5, 1725
fig.add_trace(go.Scatter(
    x=[r[0] for r in all_rows], y=[r[1] for r in all_rows], mode="markers", xaxis="x2", yaxis="y2",
    showlegend=False, name="SQSTM1",
    marker=dict(size=5.4, color=[r[2] for r in all_rows], cmin=0, cmax=16, line=dict(width=0),
                colorscale=[[0, "#D3D3D3"], [0.25, "#BCAEDC"], [0.5, "#9A80E6"], [0.75, "#6A4AF2"], [1, "#0000FF"]],
                colorbar=dict(x=CB_LEFT / W, xanchor="left", xpad=0, y=1 - CB_TOP / H, yanchor="top", ypad=0,
                              thickness=CB_RIGHT - CB_LEFT, lenmode="pixels", len=CB_BOTTOM - CB_TOP,
                              outlinewidth=0, tickvals=cbar_ticks, ticks="inside", ticklen=7, tickcolor="white",
                              tickwidth=1.5, tickprefix="\u00a0\u00a0", tickfont=dict(family=FONT, size=25, color="black")))))

axis = dict(showgrid=False, zeroline=False, showline=True, linecolor="black", linewidth=2.5, ticks="outside",
            ticklen=7, tickwidth=2.5, tickcolor="black", tickfont=dict(family=FONT, size=25, color="black"))
title_font = dict(family=FONT, size=30, color="black")

fig.update_layout(
    width=W, height=H, margin=dict(l=0, r=0, t=0, b=0), paper_bgcolor="white", plot_bgcolor="white", showlegend=False,
    xaxis=dict(axis, domain=[92 / W, 857 / W], range=[-12.03, 14.42], tickvals=x_ticks_a, anchor="y",
               title=dict(text="UMAP_1", font=title_font, standoff=8)),
    yaxis=dict(axis, domain=[1 - 817 / H, 1 - 40 / H], range=[-13.47, 17.1], tickvals=y_ticks, anchor="x",
               title=dict(text="UMAP_2", font=title_font, standoff=4)),
    xaxis2=dict(axis, domain=[960.5 / W, 1677.5 / W], range=[-12.23, 15.25], tickvals=x_ticks_b, ticktext=x_text_b,
                anchor="y2"),
    yaxis2=dict(axis, domain=[1 - 823 / H, 1 - 40 / H], range=[-14.41, 17.7], tickvals=y_ticks, anchor="x2",
                title=dict(text="UMAP_2", font=title_font, standoff=4)),
)

def note(text, px, py, size, bold=False):
    fig.add_annotation(text=f"<b>{text}</b>" if bold else text, x=px / W, y=1 - py / H, xref="paper", yref="paper",
                       showarrow=False, xanchor="center", yanchor="middle",
                       font=dict(family=FONT, size=size, color="black"))

note("M1 vs. M0", 496, 15, 27, bold=True)
note("SQSTM1", 1372, 15, 27, bold=True)
note("a", 10, 28, 36)
note("b", 925, 28, 36)
note("UMAP_1", 1329, 885, 30)

# the white colour bar ticks also appear on the bar's right-hand edge
for v in cbar_ticks:
    py = CB_BOTTOM - (CB_BOTTOM - CB_TOP) * v / 16
    fig.add_shape(type="line", xref="paper", yref="paper", x0=(CB_RIGHT - 7) / W, x1=CB_RIGHT / W,
                  y0=1 - py / H, y1=1 - py / H, line=dict(color="white", width=1.5), layer="above")

fig.write_html("out.html", config={"displayModeBar": False},
               post_script="document.body.style.margin='0';document.body.style.overflow='hidden';")
